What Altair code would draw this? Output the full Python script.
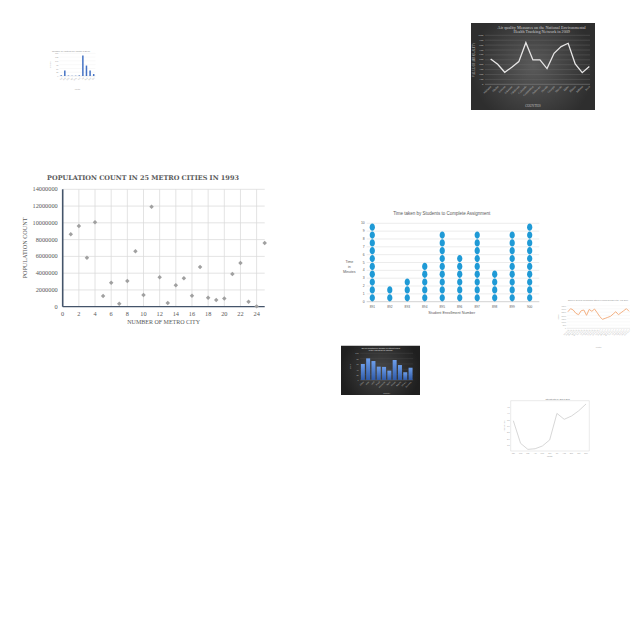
import math
import altair as alt
import pandas as pd

# ------------------------------------------------------------------ data
# A: small blue bar chart (top left)
A_TITLE = "Number of Visitors per Month in 2016"
A_MONTHS = ["Jan", "Feb", "Mar", "Apr", "May", "Jun", "Jul", "Aug", "Sep", "Oct"]
A_VISITORS = [5, 36, 3, 2, 2, 4, 135, 69, 36, 13]
A_TICKS = [0, 25, 50, 75, 100, 125, 150]

# B: dark line chart (top right)
B_TITLE = ["Air quality Measures on the National Environmental",
           "Health Tracking Network in 2009"]
B_STATES = ["Alabama", "Alaska", "Arizona", "Arkansas", "California",
            "Colorado", "Connecticut", "Delaware", "Florida", "Georgia",
            "Hawaii", "Idaho", "Illinois", "Indiana", "Iowa"]
B_VALUES = [517, 408, 245, 347, 463, 850, 497, 497, 320, 633, 769, 837, 415, 238, 361]
B_TICKS = [0, 100, 200, 300, 400, 500, 600, 700, 800, 900, 1000]

# C: main scatter
C_TITLE = "POPULATION COUNT IN 25 METRO CITIES IN 1993"
C_CITY = [1, 2, 3, 4, 5, 6, 7, 8, 9, 10, 11, 12, 13, 14, 15, 16, 17, 18, 19, 20,
          21, 22, 23, 24, 25]
C_POPULATION = [8630000, 9620000, 5850000, 10060000, 1270000, 2860000, 360000,
                3060000, 6600000, 1390000, 11930000, 3500000, 440000, 2550000,
                3380000, 1310000, 4730000, 1070000, 800000, 990000, 3900000,
                5210000, 600000, 40000, 7600000]
C_POP_TICKS = [0, 2000000, 4000000, 6000000, 8000000, 10000000, 12000000, 14000000]
C_CITY_TICKS = [0, 2, 4, 6, 8, 10, 12, 14, 16, 18, 20, 22, 24]

# D: dot plot
D_TITLE = "Time taken by Students to Complete Assignment"
D_STUDENTS = ["891", "892", "893", "894", "895", "896", "897", "898", "899", "900"]
D_MINUTES = [10, 2, 3, 5, 9, 6, 9, 4, 9, 10]
D_TICKS = [0, 1, 2, 3, 4, 5, 6, 7, 8, 9, 10]

# E: small orange line chart
E_TITLE = "Sales of General Merchandise Stores in Million Dollars in the Year 2017"
E_MONTHS = ["Jan-2016", "Feb-2016", "Mar-2016", "Apr-2016", "May-2016", "Jun-2016",
            "Jul-2016", "Aug-2016", "Sep-2016", "Oct-2016", "Nov-2016", "Dec-2016",
            "Jan-2017", "Feb-2017", "Mar-2017", "Apr-2017", "May-2017", "Jun-2017",
            "Jul-2017", "Aug-2017", "Sep-2017", "Oct-2017", "Nov-2017", "Dec-2017"]
E_SALES = [2570, 3040, 2830, 2320, 2110, 2730, 2830, 2010, 2930, 2630, 2990, 2420,
           1800, 1390, 1540, 1700, 1850, 2210, 2570, 2110, 2420, 2730, 3040, 2630]
E_TICKS = [0, 500, 1000, 1500, 2000, 2500, 3000, 3500]

# F: dark bar chart
F_TITLE = ["Top 10 Countries by Number of Internet Users",
           "in the Year 2018 (in Millions)"]
F_COUNTRIES = ["China", "India", "USA", "Brazil", "Indonesia", "Japan", "Russia",
               "Nigeria", "Mexico", "Germany"]
F_VALUES = [60, 81, 71, 50, 49, 35, 75, 56, 29, 46]
F_TICKS = [0, 20, 40, 60, 80, 100]

# G: light grey line chart
G_TITLE = "Interest rate of ABC in 2007"
G_MONTHS = ["Jan", "Feb", "Mar", "Apr", "May", "Jun", "Jul", "Aug", "Sep", "Oct", "Nov"]
G_RATES = [3.41, 1.61, 1.13, 1.18, 1.40, 1.88, 3.99, 3.52, 3.78, 4.20, 4.74]
G_TICKS = [1.5, 2.0, 2.5, 3.0, 3.5, 4.0, 4.5]

# ------------------------------------------------------------------ helpers
M = 8  # page margin: page coordinate -> view coordinate
ONE = pd.DataFrame({"k": [0]})


def sc(domain, p0, p1):
    return alt.Scale(domain=list(domain), range=[p0 - M, p1 - M], nice=False, zero=False)


def fx(f, s):
    return alt.X(f, type="quantitative", scale=s, axis=None)


def fy(f, s):
    return alt.Y(f, type="quantitative", scale=s, axis=None)


def vx(v, s):
    return alt.XDatum(v, type="quantitative", scale=s, axis=None)


def vy(v, s):
    return alt.YDatum(v, type="quantitative", scale=s, axis=None)


def rot(angle, sx, sy):
    """screen offset -> text-local dx/dy (Vega applies dx/dy after rotation)"""
    t = math.radians(angle)
    return dict(angle=angle,
                dx=round(sx * math.cos(t) + sy * math.sin(t), 3),
                dy=round(-sx * math.sin(t) + sy * math.cos(t), 3))


def note(text, xs, ys, xv, yv, **mk):
    return alt.Chart(ONE).mark_text(text=text, **mk).encode(x=vx(xv, xs), y=vy(yv, ys))


def hlines(values, xs, ys, x0, x1, **mk):
    return alt.Chart(pd.DataFrame({"v": values})).mark_rule(**mk).encode(
        y=fy("v", ys), x=vx(x0, xs), x2=alt.datum(x1))


def vlines(values, xs, ys, y0, y1, **mk):
    return alt.Chart(pd.DataFrame({"v": values})).mark_rule(**mk).encode(
        x=fx("v", xs), y=vy(y0, ys), y2=alt.datum(y1))


def ylabels(values, xs, ys, x_at, fmt, **mk):
    return alt.Chart(pd.DataFrame({"v": values})).mark_text(
        align="right", baseline="middle", **mk).encode(
        x=vx(x_at, xs), y=fy("v", ys), text=alt.Text("v:Q", format=fmt))


def xlabels(names, positions, xs, ys, y_at, **mk):
    return alt.Chart(pd.DataFrame({"p": positions, "t": names})).mark_text(**mk).encode(
        x=fx("p", xs), y=vy(y_at, ys), text="t:N")


def panel(px0, px1, py0, py1, fill):
    xs = sc([0, 1], px0, px1)
    ys = sc([0, 1], py1, py0)
    return alt.Chart(ONE).mark_rect(fill=fill, opacity=1).encode(
        x=vx(0, xs), x2=alt.datum(1), y=vy(0, ys), y2=alt.datum(1))


SERIF = "Liberation Serif"
SANS = "Liberation Sans"

# ------------------------------------------------------------------ A
xa = sc([-0.5, 9.5], 54.4, 100.5)
ya = sc([0, 150], 76, 53.3)
ia = list(range(len(A_MONTHS)))
chart_a = alt.layer(
    hlines(A_TICKS[1:], xa, ya, -0.5, 9.5, color="#ececec", strokeWidth=0.3),
    hlines([0], xa, ya, -0.5, 9.5, color="#d0d0d0", strokeWidth=0.4),
    alt.Chart(pd.DataFrame({"p": ia, "v": A_VISITORS})).mark_bar(
        size=1.5, color="#4472c4", opacity=1).encode(
        x=fx("p", xa), y=fy("v", ya), y2=alt.datum(0)),
    ylabels(A_TICKS, xa, ya, -0.5, "d", dx=-1, fontSize=2, font=SANS, color="#a6a6a6"),
    xlabels(A_MONTHS, ia, xa, ya, 0, align="right", baseline="middle",
            fontSize=1.9, font=SANS, color="#a6a6a6", **rot(315, 0.3, 1.3)),
    note("Month", xa, ya, 4.5, 0, dy=12.5, fontSize=2, font=SANS, color="#a6a6a6"),
    note("Visitors", xa, ya, -0.5, 75, baseline="middle", fontSize=2, font=SANS,
         color="#a6a6a6", **rot(270, -10, 0)),
    note(A_TITLE, xa, ya, 4.5, 150, dx=-6.5, dy=-2.3, fontSize=2.3, font=SANS,
         color="#8c8c8c"),
)

# ------------------------------------------------------------------ B
B_FILL = {"gradient": "radial",
          "stops": [{"offset": 0, "color": "#5a5a5a"}, {"offset": 1, "color": "#2e2e2e"}]}
panel_b = panel(471, 595, 23, 110, B_FILL)
xb = sc([-0.8, 14.1], 485, 590)
yb = sc([0, 1000], 84.3, 35.3)
ib = list(range(len(B_STATES)))
chart_b = alt.layer(
    hlines(B_TICKS[1:], xb, yb, -0.8, 14.1, color="#6a6a6a", strokeWidth=0.4),
    hlines([0], xb, yb, -0.8, 14.1, color="#8c8c8c", strokeWidth=0.5),
    alt.Chart(pd.DataFrame({"p": ib, "v": B_VALUES})).mark_line(
        color="#e7e6e6", strokeWidth=1.3).encode(x=fx("p", xb), y=fy("v", yb)),
    ylabels(B_TICKS, xb, yb, -0.8, "d", dx=-1.5, fontSize=2.8, font=SERIF, color="#bfbfbf"),
    xlabels(B_STATES, ib, xb, yb, 0, align="right", baseline="middle",
            fontSize=2.8, font=SERIF, color="#bfbfbf", **rot(315, 0.5, 2.2)),
    note("COUNTIES", xb, yb, 6.65, 0, dx=-4.5, dy=21.7, baseline="middle", fontSize=3.2,
         font=SERIF, color="#bfbfbf"),
    note("VALUE OF AIR QUALITY", xb, yb, -0.8, 500, baseline="middle", fontSize=3,
         font=SERIF, color="#bfbfbf", **rot(270, -11, 0)),
    note(B_TITLE, xb, yb, 6.65, 1000, dx=4.2, dy=-7.3, lineHeight=4.2, fontSize=4.2,
         font=SERIF, color="#cfcfcf", baseline="middle"),
)

# ------------------------------------------------------------------ C
xc = sc([0, 25], 62.7, 264.7)
yc = sc([0, 14000000], 306.7, 189.3)
chart_c = alt.layer(
    vlines(C_CITY_TICKS[1:], xc, yc, 0, 14000000, color="#d9d9d9", strokeWidth=0.75),
    hlines(C_POP_TICKS[1:], xc, yc, 0, 25, color="#d9d9d9", strokeWidth=0.75),
    vlines([0], xc, yc, 0, 14000000, color="#44546a", strokeWidth=1.6),
    hlines([0], xc, yc, 0, 25, color="#44546a", strokeWidth=1.2),
    alt.Chart(pd.DataFrame({"c": C_CITY, "v": C_POPULATION})).mark_point(
        shape="diamond", filled=True, size=20, color="#a0a0a0", opacity=1).encode(
        x=fx("c", xc), y=fy("v", yc)),
    ylabels(C_POP_TICKS, xc, yc, 0, "d", dx=-5, fontSize=6.3, font=SERIF, color="#595959"),
    xlabels([str(t) for t in C_CITY_TICKS], C_CITY_TICKS, xc, yc, 0, baseline="middle",
            dy=7.6, fontSize=6.3, font=SERIF, color="#595959"),
    note("NUMBER OF METRO CITY", xc, yc, 12.5, 0, dy=15, baseline="middle", fontSize=6,
         font=SERIF, color="#595959"),
    note("POPULATION COUNT", xc, yc, 0, 7000000, baseline="middle",
         fontSize=6.2, font=SERIF, color="#595959", **rot(270, -38, 0)),
    note(C_TITLE, xc, yc, 12.5, 14000000, dx=-20.7, dy=-11.6, baseline="middle",
         fontSize=6.5, fontWeight="bold", font="DejaVu Serif", color="#595959"),
)

# ------------------------------------------------------------------ D
xd = sc([-0.32, 9.55], 366.7, 539.3)
yd = sc([0, 10], 301.7, 223.3)
idd = list(range(len(D_STUDENTS)))
d_dots = pd.DataFrame([{"p": i, "y": k - 0.5}
                       for i, n in zip(idd, D_MINUTES) for k in range(1, n + 1)])
ELLIPSE = "M0,-1A0.72,1,0,1,1,0,1A0.72,1,0,1,1,0,-1Z"
chart_d = alt.layer(
    hlines(D_TICKS[1:], xd, yd, -0.32, 9.55, color="#d9d9d9", strokeWidth=0.5),
    hlines([0], xd, yd, -0.32, 9.55, color="#bfbfbf", strokeWidth=0.7),
    alt.Chart(d_dots).mark_point(shape=ELLIPSE, filled=True, size=53, color="#1f9ad6",
                                 opacity=1).encode(x=fx("p", xd), y=fy("y", yd)),
    ylabels(D_TICKS, xd, yd, -0.32, "d", dx=-2, fontSize=3.4, font=SANS, color="#595959"),
    xlabels(D_STUDENTS, idd, xd, yd, 0, baseline="middle", dy=5.6, fontSize=3.2,
            font=SANS, color="#595959"),
    note("Student Enrollment Number", xd, yd, 4.5, 0, dx=0.75, dy=11.6, baseline="middle",
         fontSize=3.8, font=SANS, color="#595959"),
    note(["Time", "in", "Minutes"], xd, yd, -0.32, 5, dx=-17.4, dy=-0.8, lineHeight=5,
         baseline="middle", fontSize=3.6, font=SANS, color="#595959"),
    note(D_TITLE, xd, yd, 4.5, 10, dx=-9.25, dy=-9, baseline="middle", fontSize=4.5,
         font=SANS, color="#595959"),
)

# ------------------------------------------------------------------ E
xe = sc([-0.35, 23.35], 567, 630)
ye = sc([0, 3500], 328.3, 305.7)
ie = list(range(len(E_MONTHS)))
chart_e = alt.layer(
    hlines(E_TICKS[1:], xe, ye, -0.35, 23.35, color="#ececec", strokeWidth=0.3),
    hlines([0], xe, ye, -0.35, 23.35, color="#d0d0d0", strokeWidth=0.4),
    alt.Chart(pd.DataFrame({"p": ie, "v": E_SALES})).mark_line(
        color="#f4b183", strokeWidth=1).encode(x=fx("p", xe), y=fy("v", ye)),
    ylabels(E_TICKS, xe, ye, -0.35, "d", dx=-1, fontSize=2, font=SANS, color="#a6a6a6"),
    xlabels(E_MONTHS, ie, xe, ye, 0, align="right", baseline="middle",
            fontSize=1.8, font=SANS, color="#a6a6a6", **rot(315, 0.3, 1)),
    note("Month", xe, ye, 11.5, 0, dy=18.7, fontSize=2, font=SANS, color="#a6a6a6"),
    note("Sales", xe, ye, -0.35, 1750, baseline="middle", fontSize=2, font=SANS,
         color="#a6a6a6", **rot(270, -9.5, 0)),
    note(E_TITLE, xe, ye, 11.5, 3500, dx=-0.5, dy=-5.7, fontSize=1.9, font=SANS,
         color="#8c8c8c"),
)

# ------------------------------------------------------------------ F
F_FILL = {"gradient": "radial",
          "stops": [{"offset": 0, "color": "#474747"}, {"offset": 1, "color": "#1f1f1f"}]}
F_BAR = {"gradient": "linear", "x1": 0, "x2": 0, "y1": 0, "y2": 1,
         "stops": [{"offset": 0, "color": "#6d9eeb"}, {"offset": 1, "color": "#2f5aa8"}]}
panel_f = panel(341, 420, 345.7, 395, F_FILL)
xf = sc([-0.5, 9.5], 355.2, 418.2)
yf = sc([0, 100], 380, 353.3)
iff = list(range(len(F_COUNTRIES)))
chart_f = alt.layer(
    hlines(F_TICKS[1:], xf, yf, -0.5, 9.5, color="#555555", strokeWidth=0.3),
    hlines([0], xf, yf, -0.5, 9.5, color="#7f7f7f", strokeWidth=0.4),
    alt.Chart(pd.DataFrame({"p": iff, "v": F_VALUES})).mark_bar(
        size=4, fill=F_BAR, opacity=1).encode(x=fx("p", xf), y=fy("v", yf), y2=alt.datum(0)),
    ylabels(F_TICKS, xf, yf, -0.5, "d", dx=-1.5, fontSize=2, font=SANS, color="#bfbfbf"),
    xlabels(F_COUNTRIES, iff, xf, yf, 0, align="right", baseline="middle",
            fontSize=1.9, font=SANS, color="#bfbfbf", **rot(315, 0.3, 1.3)),
    note("Country", xf, yf, 4.5, 0, dy=12.7, fontSize=2, font=SANS, color="#bfbfbf"),
    note("Users", xf, yf, -0.5, 50, baseline="middle", fontSize=2, font=SANS,
         color="#bfbfbf", **rot(270, -10.2, 0)),
    note(F_TITLE, xf, yf, 4.5, 100, dx=-6, dy=-5, lineHeight=2, baseline="middle",
         fontSize=1.9, font=SANS, color="#e0e0e0"),
)

# ------------------------------------------------------------------ G
xg = sc([-0.36, 10.45], 510.7, 589.3)
yg = sc([1.0, 5.0], 451, 400.7)
ig = list(range(len(G_MONTHS)))
chart_g = alt.layer(
    vlines([-0.36, 10.45], xg, yg, 1.0, 5.0, color="#cccccc", strokeWidth=0.4),
    hlines([1.0, 5.0], xg, yg, -0.36, 10.45, color="#cccccc", strokeWidth=0.4),
    alt.Chart(pd.DataFrame({"p": ig, "v": G_RATES})).mark_line(
        color="#d3d3d3", strokeWidth=0.9).encode(x=fx("p", xg), y=fy("v", yg)),
    ylabels(G_TICKS, xg, yg, -0.36, ".1f", dx=-1, fontSize=2, font=SANS, color="#999999"),
    xlabels(G_MONTHS, ig, xg, yg, 1.0, baseline="middle", dy=2.2, fontSize=1.9,
            font=SANS, color="#999999"),
    note("Month", xg, yg, 5, 1.0, dy=5, baseline="middle", fontSize=2, font=SANS,
         color="#999999"),
    note("Interest rate", xg, yg, -0.36, 3.0, baseline="middle", fontSize=2, font=SANS,
         color="#999999", **rot(270, -6.7, 0)),
    note(G_TITLE, xg, yg, 5, 5.0, dx=8, dy=-1.7, fontSize=2, font=SANS, color="#666666"),
)

# ------------------------------------------------------------------ compose
chart = alt.layer(
    chart_a, panel_b, chart_b, chart_c, chart_d, chart_e, panel_f, chart_f, chart_g
).resolve_scale(x="independent", y="independent").properties(
    width=624, height=600, padding=0, background="#ffffff",
    autosize=alt.AutoSizeParams(type="none"),
).configure_view(strokeWidth=0)

chart.save("out.html", embed_options={"renderer": "svg", "actions": False})
